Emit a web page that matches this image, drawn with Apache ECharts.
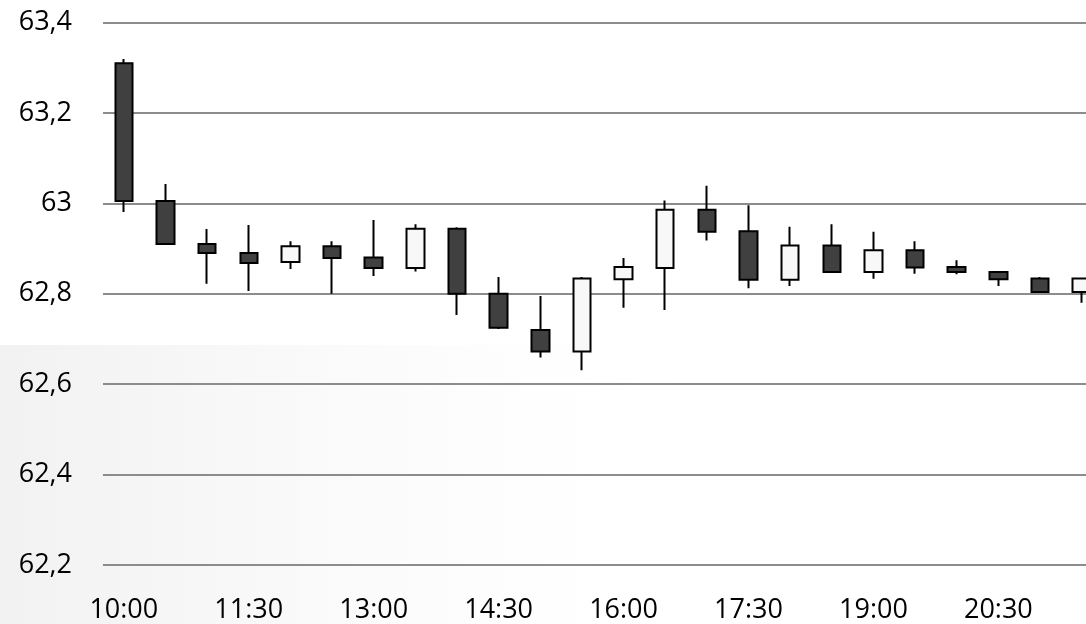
<!DOCTYPE html>
<html>
<head>
<meta charset="utf-8">
<script src="https://cdn.jsdelivr.net/npm/echarts@6/dist/echarts.min.js"></script>
<style>
html,body{margin:0;padding:0;overflow:hidden;background:#fff;}
#chart{width:1106px;height:624px;}
</style>
</head>
<body>
<div id="chart"></div>
<script>
// Half-hour periods
const categories = ['10:00','10:30','11:00','11:30','12:00','12:30','13:00','13:30','14:00','14:30','15:00','15:30',
  '16:00','16:30','17:00','17:30','18:00','18:30','19:00','19:30','20:00','20:30','21:00','21:30'];
const opens  = [63.310,63.005,62.910,62.890,62.870,62.905,62.880,62.857,62.944,62.800,62.720,62.672,
  62.832,62.857,62.986,62.938,62.831,62.907,62.848,62.896,62.859,62.848,62.834,62.804];
const closes = [63.005,62.910,62.890,62.868,62.905,62.879,62.857,62.944,62.800,62.725,62.672,62.834,
  62.859,62.986,62.937,62.831,62.907,62.848,62.896,62.858,62.848,62.832,62.804,62.834];
const lows   = [62.981,62.910,62.822,62.806,62.855,62.800,62.839,62.849,62.753,62.722,62.659,62.631,
  62.769,62.764,62.918,62.812,62.817,62.848,62.833,62.844,62.843,62.817,62.804,62.780];
const highs  = [63.319,63.043,62.943,62.952,62.916,62.916,62.963,62.954,62.947,62.837,62.795,62.837,
  62.879,63.006,63.039,62.996,62.948,62.954,62.937,62.916,62.874,62.849,62.837,62.836];
const yTicks = { min: 62.2, max: 63.4, step: 0.2 };

const ohlc = categories.map((c, i) => [opens[i], closes[i], lows[i], highs[i]]);

const chart = echarts.init(document.getElementById('chart'), null, { renderer: 'canvas' });
const font = '"Open Sans", "Liberation Sans", sans-serif';
chart.setOption({
  backgroundColor: '#ffffff',
  animation: false,
  graphic: [{
    type: 'rect', z: -10, silent: true,
    shape: { x: 0, y: 345, width: 700, height: 279 },
    style: {
      fill: new echarts.graphic.LinearGradient(0, 0, 1, 0, [
        { offset: 0, color: 'rgba(238,238,238,0.8)' },
        { offset: 0.45, color: 'rgba(246,246,246,0.6)' },
        { offset: 1, color: 'rgba(255,255,255,0)' }
      ])
    }
  }],
  grid: { left: 103, right: 3.5, top: 22.5, bottom: 58, containLabel: false },
  xAxis: {
    type: 'category',
    data: categories,
    boundaryGap: true,
    axisLine: { show: false },
    axisTick: { show: false },
    axisLabel: { interval: 2, margin: 32, fontFamily: font, fontSize: 27, color: '#000' },
    splitLine: { show: false }
  },
  yAxis: {
    type: 'value',
    min: yTicks.min, max: yTicks.max, interval: yTicks.step,
    axisLine: { show: false },
    axisTick: { show: false },
    axisLabel: {
      margin: 31, fontFamily: font, fontSize: 27, color: '#000',
      formatter: v => String(+v.toFixed(1)).replace('.', ',')
    },
    splitLine: { lineStyle: { color: '#8c8c8c', width: 2 } }
  },
  series: [{
    type: 'candlestick',
    data: ohlc,
    barWidth: 18,
    itemStyle: {
      color: '#f8f8f8', color0: '#404040',
      borderColor: '#000', borderColor0: '#000', borderWidth: 2
    }
  }]
});
</script>
</body>
</html>
